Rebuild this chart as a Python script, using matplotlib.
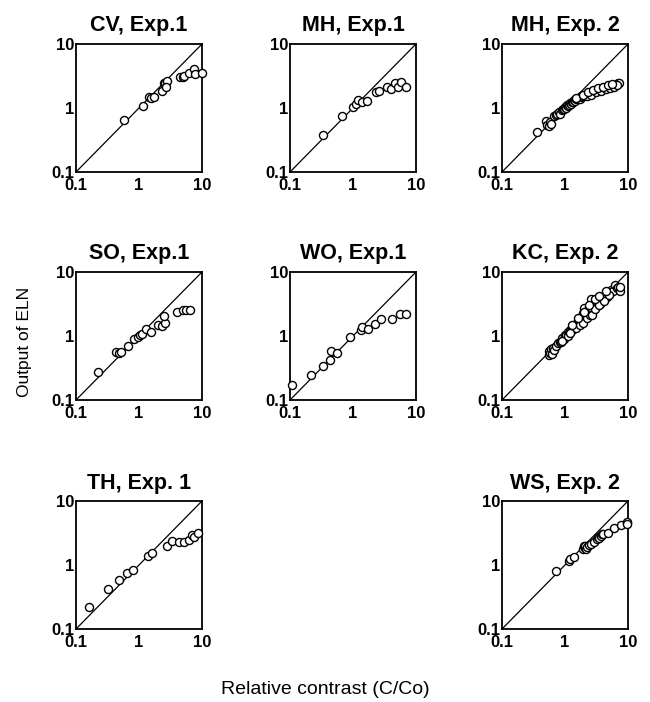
import matplotlib
matplotlib.use("Agg")
import matplotlib.pyplot as plt
from matplotlib.ticker import FixedLocator, FixedFormatter, NullLocator

plt.rcParams['font.family'] = ['Liberation Sans', 'DejaVu Sans']

# ---------------- data ----------------
tick_values = [0.1, 1, 10]
tick_labels = ["0.1", "1", "10"]
identity = [0.1, 10]

titles = ["CV, Exp.1", "MH, Exp.1", "MH, Exp. 2",
          "SO, Exp.1", "WO, Exp.1", "KC, Exp. 2",
          "TH, Exp. 1", "WS, Exp. 2"]

cv_x = [0.57, 1.14, 1.45, 1.55, 1.75, 2.32, 2.47, 2.60, 2.75, 2.69, 4.48, 4.93, 5.20, 6.30, 7.55, 7.70, 10.0]
cv_y = [0.65, 1.08, 1.49, 1.45, 1.46, 1.85, 2.48, 2.50, 2.60, 2.15, 3.08, 3.10, 3.20, 3.47, 4.00, 3.40, 3.55]

mh1_x = [0.34, 0.67, 1.01, 1.12, 1.22, 1.38, 1.66, 2.32, 2.63, 3.49, 3.95, 4.65, 5.19, 5.73, 6.90]
mh1_y = [0.375, 0.76, 1.04, 1.17, 1.34, 1.26, 1.30, 1.78, 1.83, 2.10, 1.96, 2.43, 2.10, 2.57, 2.15]

mh2_x = [0.36, 0.50, 0.52, 0.55, 0.58, 0.60, 0.68, 0.72, 0.76, 0.80, 0.84, 0.88, 0.92, 0.96,
         1.00, 1.04, 1.08, 1.12, 1.16, 1.20, 1.25, 1.30, 1.35, 1.40, 1.46, 1.52, 1.58, 1.65,
         1.72, 1.80, 1.88, 1.96, 2.05, 2.15, 2.25, 2.40, 2.55, 2.70, 2.85, 3.00, 3.20, 3.40,
         3.60, 3.85, 4.10, 4.40, 4.70, 5.00, 5.40, 5.80, 6.20, 6.60, 7.00, 7.20,
         2.20, 2.60, 3.10, 3.70, 4.50, 5.20, 6.00, 6.80,
         1.50, 1.90, 2.30, 2.80, 3.30, 4.00, 4.80, 5.60]
mh2_y = [0.42, 0.62, 0.55, 0.52, 0.60, 0.57, 0.74, 0.78, 0.80, 0.86, 0.82, 0.92, 0.95, 0.98,
         1.02, 1.00, 1.10, 1.06, 1.12, 1.18, 1.15, 1.24, 1.22, 1.32, 1.30, 1.38, 1.36, 1.45,
         1.40, 1.52, 1.48, 1.56, 1.60, 1.58, 1.68, 1.72, 1.70, 1.80, 1.78, 1.88, 1.85, 1.95,
         1.92, 2.02, 2.00, 2.10, 2.08, 2.18, 2.20, 2.28, 2.32, 2.38, 2.45, 2.50,
         1.55, 1.62, 1.75, 1.85, 1.95, 2.05, 2.15, 2.30,
         1.45, 1.62, 1.78, 1.90, 2.05, 2.15, 2.30, 2.40]

so_x = [0.224, 0.435, 0.49, 0.52, 0.67, 0.82, 0.95, 1.02, 1.10, 1.30, 1.54, 1.99, 2.30, 2.59, 2.50, 3.95, 5.03, 5.60, 6.56]
so_y = [0.271, 0.56, 0.54, 0.57, 0.70, 0.89, 0.96, 1.02, 1.07, 1.28, 1.15, 1.46, 1.45, 1.60, 2.02, 2.36, 2.51, 2.55, 2.57]

wo_x = [0.109, 0.214, 0.333, 0.436, 0.448, 0.558, 0.88, 1.35, 1.37, 1.75, 2.21, 2.75, 4.13, 5.61, 6.92]
wo_y = [0.171, 0.244, 0.336, 0.416, 0.573, 0.54, 0.95, 1.24, 1.36, 1.28, 1.53, 1.83, 1.87, 2.19, 2.19]

kc_x = [0.55, 0.56, 0.58, 0.60, 0.62, 0.65, 0.68, 0.72, 0.78, 0.82, 0.86, 0.90, 0.95, 1.00, 1.05,
        1.10, 1.15, 1.20, 1.25, 1.30, 1.35, 1.40, 1.45, 1.50, 1.55, 1.60, 1.65, 1.70, 1.75, 1.80,
        1.90, 1.95, 2.00, 2.10, 2.20, 2.30, 2.40, 2.50, 2.60, 2.70, 2.80, 3.00, 3.20, 3.40, 3.60,
        3.80, 4.00, 4.30, 4.60, 5.00, 5.40, 5.80, 6.20, 6.60, 7.00, 7.40, 7.60,
        1.50, 1.70, 1.90, 2.20, 2.50, 2.67, 3.00, 3.50, 4.20, 5.00, 1.30, 1.60, 2.00, 2.40, 3.00,
        3.50, 4.50, 0.90, 1.10, 1.20]
kc_y = [0.50, 0.58, 0.55, 0.62, 0.52, 0.66, 0.60, 0.70, 0.78, 0.82, 0.80, 0.92, 0.90, 1.02, 1.05,
        1.15, 1.12, 1.25, 1.20, 1.35, 1.30, 1.45, 1.38, 1.55, 1.50, 1.70, 1.58, 1.85, 1.65, 2.00,
        1.80, 2.30, 2.70, 2.10, 2.50, 2.20, 2.80, 2.40, 3.85, 2.60, 3.00, 3.30, 2.90, 3.60, 3.20,
        4.10, 3.70, 4.40, 4.00, 4.80, 5.30, 5.00, 6.20, 5.60, 5.90, 5.00, 5.85,
        1.35, 1.50, 1.60, 1.90, 2.10, 2.13, 2.60, 3.00, 3.50, 4.30, 1.50, 1.90, 2.40, 3.10, 3.80,
        4.20, 5.00, 0.85, 1.00, 1.10]

th_x = [0.163, 0.324, 0.483, 0.64, 0.81, 1.40, 1.62, 2.80, 3.36, 4.28, 5.14, 6.15, 6.95, 7.40, 8.55]
th_y = [0.223, 0.425, 0.58, 0.74, 0.84, 1.38, 1.56, 2.00, 2.41, 2.27, 2.32, 2.50, 2.97, 2.70, 3.16]

ws_x = [0.71, 1.14, 1.22, 1.40, 1.95, 2.00, 2.05, 2.10, 2.15, 2.25, 2.40, 2.60, 2.93, 3.20, 3.40,
        3.52, 3.70, 3.84, 4.00, 4.79, 5.97, 7.80, 9.50, 9.76, 9.80]
ws_y = [0.80, 1.15, 1.22, 1.32, 1.80, 1.95, 1.85, 2.00, 1.80, 1.90, 2.05, 2.10, 2.30, 2.55, 2.75,
        2.67, 2.80, 3.05, 3.00, 3.20, 3.75, 4.20, 4.50, 4.69, 4.40]

panel_data = [(cv_x, cv_y), (mh1_x, mh1_y), (mh2_x, mh2_y),
              (so_x, so_y), (wo_x, wo_y), (kc_x, kc_y),
              (th_x, th_y), (ws_x, ws_y)]

# ---------------- layout ----------------
W, H = 650, 702
fig = plt.figure(figsize=(W / 100, H / 100), dpi=100)

col_left = [76, 290, 502]
row_top = [44, 272, 501]
ax_w, ax_h = 126, 128
slots = [(0, 0), (0, 1), (0, 2), (1, 0), (1, 1), (1, 2), (2, 0), (2, 2)]

for (r, c), title, (xs, ys) in zip(slots, titles, panel_data):
    left = col_left[c] / W
    bottom = 1 - (row_top[r] + ax_h) / H
    ax = fig.add_axes([left, bottom, ax_w / W, ax_h / H])
    ax.set_xscale('log')
    ax.set_yscale('log')
    ax.set_xlim(0.1, 10)
    ax.set_ylim(0.1, 10)
    ax.plot(identity, identity, color='black', lw=0.9, zorder=1)
    ax.plot(xs, ys, linestyle='none', marker='o', markersize=5.8,
            markerfacecolor='white', markeredgecolor='black',
            markeredgewidth=1.0, zorder=3, clip_on=False)
    for axis in (ax.xaxis, ax.yaxis):
        axis.set_major_locator(FixedLocator(tick_values))
        axis.set_major_formatter(FixedFormatter(tick_labels))
        axis.set_minor_locator(NullLocator())
    ax.tick_params(length=0, labelsize=12)
    ax.tick_params(axis='x', pad=4)
    ax.tick_params(axis='y', pad=1.5)
    for lab in ax.get_xticklabels() + ax.get_yticklabels():
        lab.set_fontweight('bold')
    for sp in ax.spines.values():
        sp.set_linewidth(1.3)
    ax.set_title(title, fontsize=15.5, fontweight='bold', pad=9)

fig.text(0.038, 0.513, "Output of ELN", rotation=90, ha='center', va='center', fontsize=12.5)
fig.text(0.5, 0.018, "Relative contrast (C/Co)", ha='center', va='center', fontsize=14)

fig.savefig("out.png", dpi=100)
